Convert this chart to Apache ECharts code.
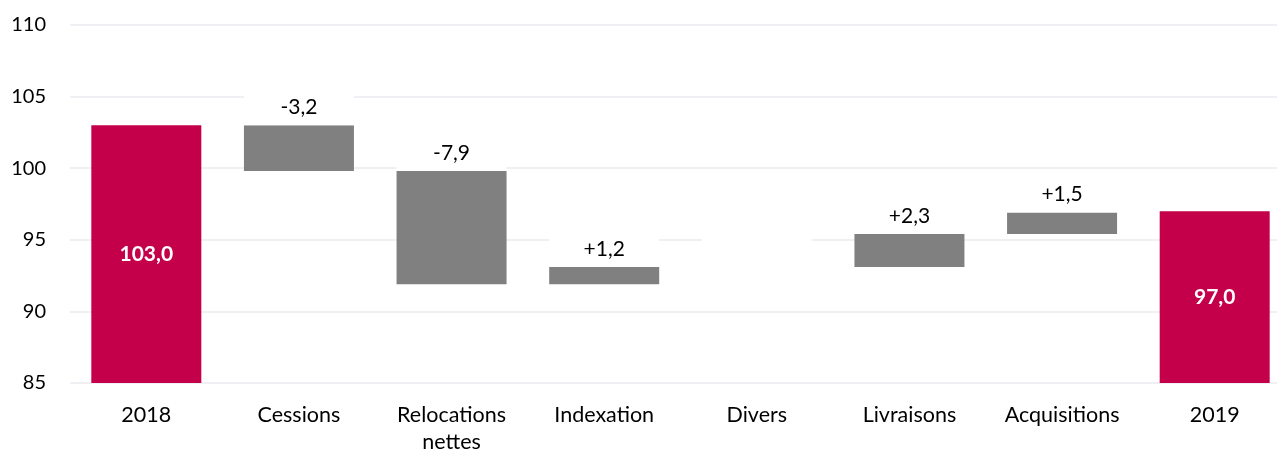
<!DOCTYPE html>
<html>
<head>
<meta charset="utf-8">
<script src="https://cdn.jsdelivr.net/npm/echarts/dist/echarts.min.js"></script>
<style>
  html, body { margin: 0; padding: 0; background: #fff; }
  #chart { width: 1277px; height: 453px; }
</style>
</head>
<body>
<div id="chart"></div>
<script>
  // données
  const categories = ['2018', 'Cessions', 'Relocations\nnettes', 'Indexation', 'Divers', 'Livraisons', 'Acquisitions', '2019'];
  const totals = [103.0, null, null, null, null, null, null, 97.0];
  const deltas = [null, -3.2, -7.9, 1.2, 0, 2.3, 1.5, null];
  const yMin = 85, yMax = 110, yStep = 5;

  const RED = '#C5004B';
  const GREY = '#808080';
  const CAP = 2.5; // bande blanche qui porte l'étiquette

  function fmt(v) {
    return (v > 0 ? '+' : '') + v.toFixed(1).replace('.', ',');
  }

  // construction du waterfall
  let running = totals[0];
  const baseData = [], deltaData = [], totalData = [], capData = [];
  categories.forEach((c, i) => {
    if (totals[i] != null) {
      baseData.push(0);
      totalData.push(totals[i]);
      deltaData.push('-');
      capData.push('-');
      running = totals[i];
    } else {
      const start = running, end = running + deltas[i];
      baseData.push(Math.min(start, end));
      deltaData.push(Math.abs(deltas[i]));
      totalData.push('-');
      capData.push(CAP);
      running = end;
    }
  });

  const chart = echarts.init(document.getElementById('chart'));
  chart.setOption({
    animation: false,
    textStyle: { fontFamily: 'Lato' },
    grid: { left: 70, right: -14, top: 25, bottom: 70, outerBoundsMode: 'none', containLabel: false },
    xAxis: {
      type: 'category',
      data: categories,
      axisLine: { show: false },
      axisTick: { show: false },
      axisLabel: { interval: 0, color: '#000', fontSize: 21.5, margin: 19, lineHeight: 27, fontFamily: 'Lato' }
    },
    yAxis: {
      type: 'value',
      min: yMin, max: yMax, interval: yStep,
      axisLine: { show: false },
      axisTick: { show: false },
      axisLabel: { color: '#000', fontSize: 20, margin: 24, fontFamily: 'Lato' },
      splitLine: { lineStyle: { color: '#EBEBF1', width: 1.5 } }
    },
    series: [
      {
        name: 'base', type: 'bar', stack: 'w', barWidth: 110,
        itemStyle: { color: 'transparent' },
        data: baseData
      },
      {
        name: 'total', type: 'bar', stack: 'w', barWidth: 110,
        itemStyle: { color: RED },
        label: {
          show: true, position: 'inside', color: '#fff', fontWeight: 'bold', fontSize: 21,
          formatter: p => p.value.toFixed(1).replace('.', ',')
        },
        data: totalData
      },
      {
        name: 'variation', type: 'bar', stack: 'w', barWidth: 110,
        itemStyle: { color: GREY },
        data: deltaData
      },
      {
        name: 'etiquette', type: 'bar', stack: 'w', barWidth: 110,
        itemStyle: { color: '#fff' },
        label: {
          show: true, position: 'inside', color: '#000', fontSize: 21,
          formatter: p => deltas[p.dataIndex] ? fmt(deltas[p.dataIndex]) : ''
        },
        data: capData
      }
    ]
  });
</script>
</body>
</html>
